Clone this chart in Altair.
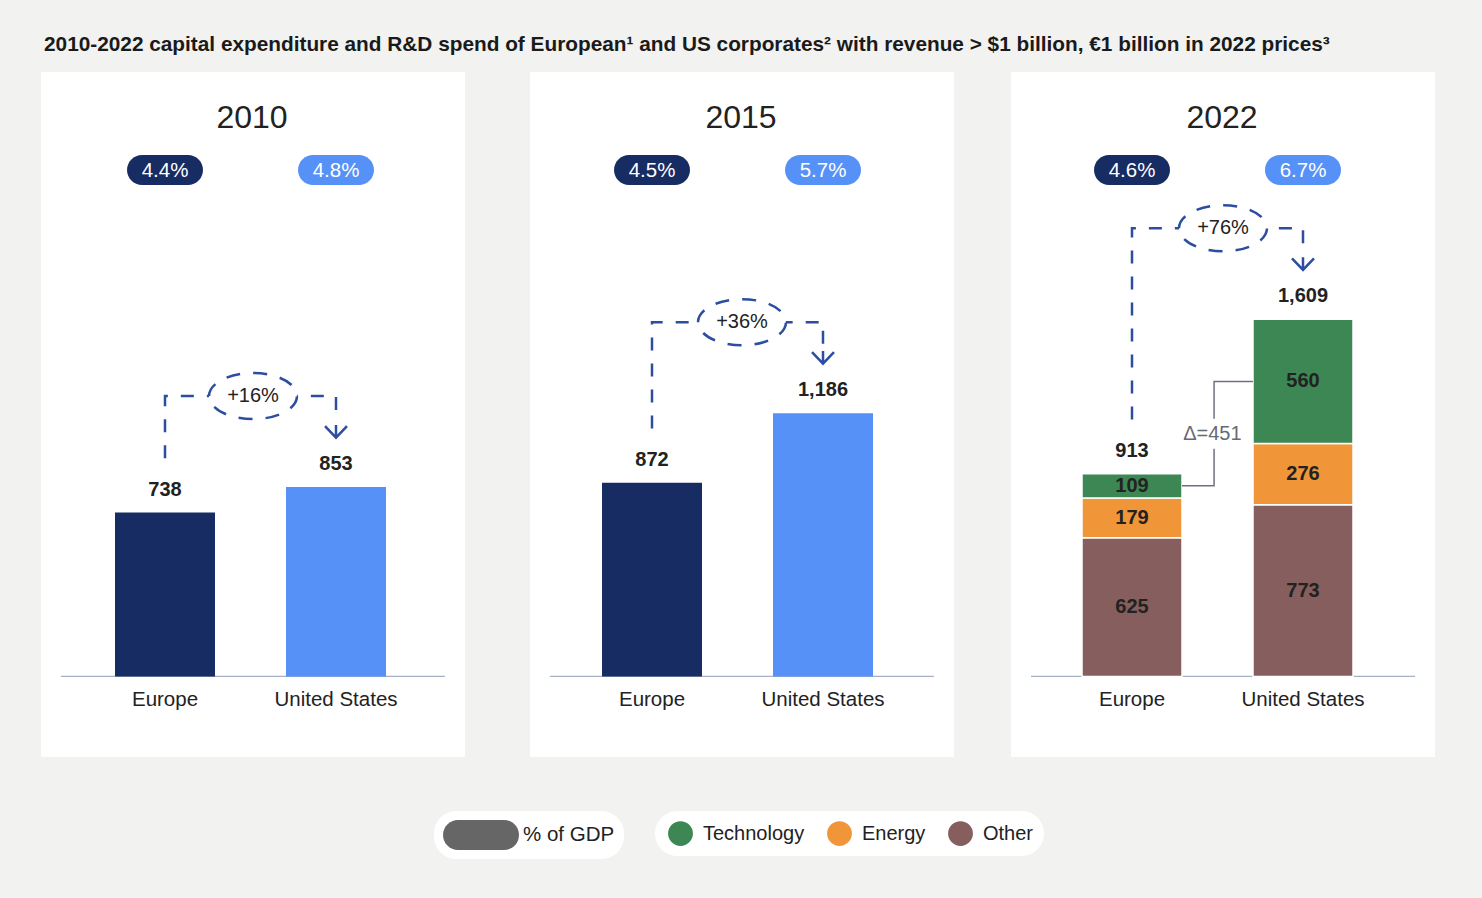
import altair as alt
import pandas as pd

# ---------------- data ----------------
years = ["2010", "2015", "2022"]
regions = ["Europe", "United States"]
total_europe = [738, 872, 913]
total_us = [853, 1186, 1609]
gdp_europe = [4.4, 4.5, 4.6]
gdp_us = [4.8, 5.7, 6.7]
sectors = ["Technology", "Energy", "Other"]
sector_europe_2022 = [109, 179, 625]
sector_us_2022 = [560, 276, 773]
title_text = ("2010-2022 capital expenditure and R&D spend of European\u00b9 and US corporates\u00b2 "
              "with revenue > $1 billion, \u20ac1 billion in 2022 prices\u00b3")

# ---------------- styles ----------------
region_colors = ["#172c63", "#5591f7"]
sector_colors = ["#3c8753", "#f09638", "#875e5e"]
BG = "#f2f2f0"
FONT = "Liberation Sans"
INK = "#222222"
DASH_BLUE = "#2c4da0"
GREY_LINE = "#6e7180"

# ---------------- layout ----------------
W, H = 1394, 685
UNIT = 171.0                         # px between the two bars of a panel
PANEL_OFF = [0, 489, 970]            # panel left edges (px)
GROUP_OFF = [0, 487, 967]            # bar-group offsets (px)
X_MIN = -124 / UNIT
X_MAX = X_MIN + W / UNIT
Y_MIN, Y_MAX = -363, 2723
PXY = H / (Y_MAX - Y_MIN)            # px per data unit
BAR_HALF = 50 / UNIT

PILL = "M -1.533,-1 L 1.533,-1 A 1,1 0 0 1 1.533,1 L -1.533,1 A 1,1 0 0 1 -1.533,-1 Z"
ELLIPSE = "M -1,0 A 1,0.523 0 1 1 1,0 A 1,0.523 0 1 1 -1,0 Z"
ARROW = "M -1,-0.5 L 0,0.55 L 1,-0.5 M 0,-0.6 L 0,0.55"


def gx(i):
    return GROUP_OFF[i] / UNIT


def pleft(i):
    return PANEL_OFF[i] / UNIT + X_MIN


# ---------------- frames ----------------
panel_rows = []
for i, yr in enumerate(years):
    left = pleft(i)
    panel_rows.append(dict(year=yr, xmid=left + 211 / UNIT,
                           left=left, right=left + 424 / UNIT,
                           axl=left + 20 / UNIT, axr=left + 404 / UNIT, zero=0))
panels = pd.DataFrame(panel_rows)

bar_rows = []
for i in range(2):
    for j, tot in enumerate([total_europe[i], total_us[i]]):
        x = gx(i) + j
        bar_rows.append(dict(year=years[i], region=regions[j], x0=x - BAR_HALF, x1=x + BAR_HALF,
                             y0=0, y1=tot, col=region_colors[j]))
bars = pd.DataFrame(bar_rows)

stack_rows = []
for j, vals in enumerate([sector_europe_2022, sector_us_2022]):
    x = gx(2) + j
    base = 0
    for s, v in reversed(list(zip(sectors, vals))):
        stack_rows.append(dict(region=regions[j], sector=s, value=v, x=x,
                               x0=x - BAR_HALF, x1=x + BAR_HALF,
                               y0=base, y1=base + v, ymid=base + v / 2))
        base += v
stack = pd.DataFrame(stack_rows)

tot_rows = []
for i in range(3):
    for j, tot in enumerate([total_europe[i], total_us[i]]):
        tot_rows.append(dict(x=gx(i) + j, ylab=tot + 23 / PXY, label=f"{tot:,}",
                             region=regions[j]))
totals = pd.DataFrame(tot_rows)

pill_rows = []
for i in range(3):
    for j, v in enumerate([gdp_europe[i], gdp_us[i]]):
        pill_rows.append(dict(x=gx(i) + j, label=f"{v}%", col=region_colors[j],
                              kind="% of GDP"))
pills = pd.DataFrame(pill_rows)

arrow_rows, ell_rows, head_rows = [], [], []
for i in range(3):
    xe, xus = gx(i), gx(i) + 1
    e, u = total_europe[i], total_us[i]
    top = u + 410
    head = u + 250
    pts = [(xe, e + 245), (xe, top), (xus, top), (xus, head + 9 / PXY)]
    for k, (px, py) in enumerate(pts):
        arrow_rows.append(dict(year=years[i], ord=k, x=px, y=py))
    pct = round((u / e - 1) * 100)
    ell_rows.append(dict(x=pleft(i) + 212 / UNIT, y=top, label=f"+{pct}%"))
    head_rows.append(dict(x=xus, y=head))
arrows = pd.DataFrame(arrow_rows)
ells = pd.DataFrame(ell_rows)
heads = pd.DataFrame(head_rows)

tech = stack[stack.sector == "Technology"].set_index("region")
mid_e = tech.loc["Europe", "ymid"]
mid_u = tech.loc["United States", "ymid"]
xe3 = gx(2)
xm = xe3 + 0.48
lab_y = (mid_e + mid_u) / 2
gap = 15 / PXY
delta_lines = pd.DataFrame([
    dict(seg="a", ord=0, x=xe3 + BAR_HALF, y=mid_e),
    dict(seg="a", ord=1, x=xm, y=mid_e),
    dict(seg="a", ord=2, x=xm, y=lab_y - gap),
    dict(seg="b", ord=0, x=xm, y=lab_y + gap),
    dict(seg="b", ord=1, x=xm, y=mid_u),
    dict(seg="b", ord=2, x=xe3 + 1 - BAR_HALF, y=mid_u),
])
delta_val = sector_us_2022[0] - sector_europe_2022[0]
delta_lab = pd.DataFrame([dict(x=xm - 0.01, y=lab_y, label=f"\u0394={delta_val}")])

axis_rows = []
for i in range(3):
    for j in range(2):
        axis_rows.append(dict(x=gx(i) + j, label=regions[j]))
axis_labels = pd.DataFrame(axis_rows)

# ---------------- scales ----------------
xs = alt.Scale(domain=[X_MIN, X_MAX], nice=False, zero=False)
ys = alt.Scale(domain=[Y_MIN, Y_MAX], nice=False, zero=False)


def X(f):
    return alt.X(f"{f}:Q", scale=xs, axis=None)


def Y(f):
    return alt.Y(f"{f}:Q", scale=ys, axis=None)


# ---------------- layers ----------------
panel_bg = alt.Chart(panels).mark_rect(fill="white").encode(
    x=X("left"), x2="right:Q", y=alt.value(0), y2=alt.value(H))

baseline = alt.Chart(panels).mark_rule(color="#a7b1c4", strokeWidth=1.2).encode(
    x=X("axl"), x2="axr:Q", y=Y("zero"))

bar_layer = alt.Chart(bars).mark_bar().encode(
    x=X("x0"), x2="x1:Q", y=Y("y0"), y2="y1:Q",
    fill=alt.Fill("col:N", scale=None))

stack_layer = alt.Chart(stack).mark_bar(stroke="white", strokeWidth=1.5).encode(
    x=X("x0"), x2="x1:Q", y=Y("y0"), y2="y1:Q",
    color=alt.Color("sector:N", scale=alt.Scale(domain=sectors, range=sector_colors),
                    legend=alt.Legend(title=None, orient="none", legendX=614, legendY=739,
                                      direction="horizontal", symbolType="circle",
                                      symbolSize=616, symbolStrokeWidth=0, symbolOpacity=1,
                                      symbolOffset=3,
                                      labelFont=FONT, labelFontSize=20, labelColor=INK,
                                      labelOffset=10, columnPadding=19, padding=10,
                                      fillColor="white", cornerRadius=22.5)))

stack_text = alt.Chart(stack).mark_text(font=FONT, fontSize=20, fontWeight="bold",
                                        color=INK, baseline="middle").encode(
    x=X("x"), y=Y("ymid"), text="value:Q")

total_text = alt.Chart(totals).mark_text(font=FONT, fontSize=20, fontWeight="bold",
                                         color=INK, baseline="middle").encode(
    x=X("x"), y=Y("ylab"), text="label:N")

year_text = alt.Chart(panels).mark_text(font=FONT, fontSize=32, color=INK,
                                        baseline="middle").encode(
    x=X("xmid"), y=alt.value(46), text="year:N")

pill_layer = alt.Chart(pills).mark_point(filled=True, size=900, strokeWidth=0, opacity=1).encode(
    x=X("x"), y=alt.value(98),
    fill=alt.Fill("col:N", scale=None),
    shape=alt.Shape("kind:N", scale=alt.Scale(domain=["% of GDP"], range=[PILL]),
                    legend=alt.Legend(title=None, orient="none", legendX=393, legendY=739,
                                      symbolSize=900, symbolFillColor="#666666",
                                      symbolStrokeWidth=0, symbolOpacity=1, symbolOffset=23,
                                      labelOffset=27, labelFont=FONT, labelFontSize=20.5,
                                      labelColor=INK, padding=9, fillColor="white",
                                      cornerRadius=22.5)))

pill_text = alt.Chart(pills).mark_text(font=FONT, fontSize=20.5, color="white",
                                       baseline="middle", dy=1).encode(
    x=X("x"), y=alt.value(98), text="label:N")

arrow_layer = alt.Chart(arrows).mark_line(color=DASH_BLUE, strokeWidth=2.5,
                                          strokeDash=[13, 13]).encode(
    x=X("x"), y=Y("y"), order="ord:Q", detail="year:N")

ell_layer = alt.Chart(ells).mark_point(shape=ELLIPSE, size=7744, filled=True, fill="white",
                                       stroke=DASH_BLUE, strokeWidth=2.5, strokeDash=[14, 13],
                                       opacity=1).encode(x=X("x"), y=Y("y"))

ell_text = alt.Chart(ells).mark_text(font=FONT, fontSize=20, color=INK,
                                     baseline="middle").encode(
    x=X("x"), y=Y("y"), text="label:N")

head_layer = alt.Chart(heads).mark_point(shape=ARROW, size=484, filled=False,
                                         stroke=DASH_BLUE, strokeWidth=2.5,
                                         opacity=1).encode(x=X("x"), y=Y("y"))

delta_layer = alt.Chart(delta_lines).mark_line(color=GREY_LINE, strokeWidth=1.5).encode(
    x=X("x"), y=Y("y"), order="ord:Q", detail="seg:N")

delta_text = alt.Chart(delta_lab).mark_text(font=FONT, fontSize=20, color="#666a74",
                                            baseline="middle").encode(
    x=X("x"), y=Y("y"), text="label:N")

axis_text = alt.Chart(axis_labels).mark_text(font=FONT, fontSize=20.5, color=INK,
                                             baseline="middle").encode(
    x=X("x"), y=alt.value(628), text="label:N")

chart = alt.layer(
    panel_bg, baseline, bar_layer, stack_layer, stack_text, total_text, year_text,
    pill_layer, pill_text, arrow_layer, ell_layer, ell_text, head_layer,
    delta_layer, delta_text, axis_text
).resolve_scale(
    fill="independent"
).properties(
    width=W, height=H,
    padding={"left": 41, "top": 72, "right": 47, "bottom": 141},
    autosize=alt.AutoSizeParams(type="none"),
    title=alt.Title(title_text, anchor="start", font=FONT, fontSize=20.8, fontWeight="bold",
                    color="#1a1a1a", offset=16, dx=3),
).configure(
    background=BG, font=FONT
).configure_view(stroke=None)

chart.save("out.html", embed_options={"renderer": "svg", "actions": False})
